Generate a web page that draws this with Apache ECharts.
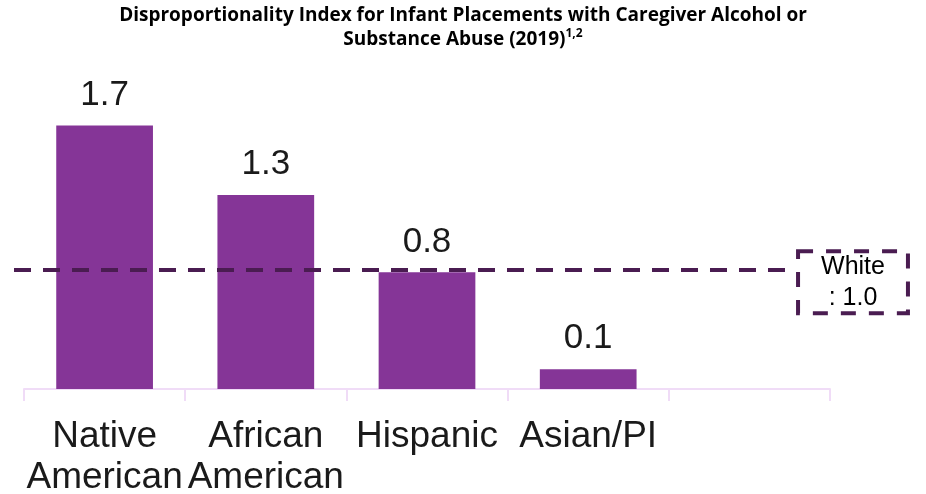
<!DOCTYPE html>
<html>
<head>
<meta charset="utf-8">
<script src="https://cdn.jsdelivr.net/npm/echarts@6/dist/echarts.min.js"></script>
<style>
html,body{margin:0;padding:0;background:#fff;}
#chart{width:926px;height:494px;}
</style>
</head>
<body>
<div id="chart"></div>
<script>
// Categories (fifth slot is empty in the original)
const categories = ['Native\nAmerican', 'African\nAmerican', 'Hispanic', 'Asian/PI', ''];
// Disproportionality index values
const indexValues = [1.74, 1.28, 0.77, 0.13, null];
// Reference line for White (labelled 1.0, drawn at this height in the original)
const whiteLineValue = 0.79;
const whiteLabel = 'White\n: 1.0';
const titleLines = ['Disproportionality Index for Infant Placements with Caregiver Alcohol or', 'Substance Abuse (2019)'];
const titleSup = '1,2';

const chart = echarts.init(document.getElementById('chart'));
chart.setOption({
  animation: false,
  backgroundColor: '#ffffff',
  title: {
    text: titleLines[0] + '\n' + titleLines[1] + '{sup|' + titleSup + '}',
    left: 'center',
    top: -1,
    textStyle: {
      fontFamily: 'Open Sans',
      fontWeight: 'bold',
      fontSize: 19,
      lineHeight: 24,
      color: '#000',
      rich: {
        sup: { fontFamily: 'Open Sans', fontWeight: 'bold', fontSize: 12, verticalAlign: 'top', lineHeight: 15, color: '#000' }
      }
    }
  },
  grid: { left: 24, right: 96, top: 86, bottom: 105, outerBoundsMode: 'none', containLabel: false },
  xAxis: {
    type: 'category',
    data: categories,
    axisLine: { show: true, lineStyle: { color: '#f0dcf7', width: 2 } },
    axisTick: { show: true, interval: 0, length: 12, lineStyle: { color: '#f0dcf7', width: 2 } },
    axisLabel: {
      interval: 0,
      margin: 27,
      fontFamily: 'Liberation Sans',
      fontSize: 37,
      lineHeight: 41,
      color: '#1a1a1a'
    }
  },
  yAxis: {
    type: 'value',
    min: 0,
    max: 2,
    show: false,
    splitLine: { show: false }
  },
  series: [{
    type: 'bar',
    data: indexValues,
    barWidth: '60%',
    itemStyle: { color: '#853597' },
    label: {
      show: true,
      position: 'top',
      distance: 13,
      fontFamily: 'Liberation Sans',
      fontSize: 35,
      color: '#1a1a1a',
      formatter: p => (p.value == null ? '' : Number(p.value).toFixed(1))
    },
    markLine: {
      silent: true,
      symbol: ['none', 'none'],
      lineStyle: { color: '#4a1c51', width: 4, type: [17, 12] },
      label: {
        show: true,
        position: 'end',
        distance: 7,
        offset: [56, 13],
        formatter: whiteLabel,
        fontFamily: 'Liberation Sans',
        fontSize: 25,
        lineHeight: 31,
        color: '#000',
        align: 'center',
        borderColor: '#4a1c51',
        borderWidth: 4,
        borderType: [15, 13],
        padding: [0, 23, 0, 23]
      },
      data: [[{ x: 14, yAxis: whiteLineValue }, { x: 790, yAxis: whiteLineValue }]]
    }
  }]
});
</script>
</body>
</html>
